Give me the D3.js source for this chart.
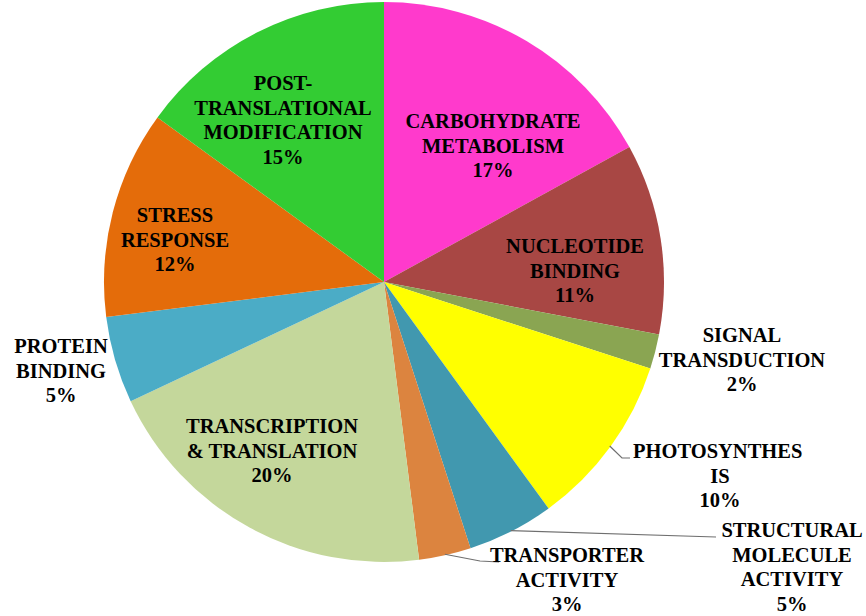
<!DOCTYPE html>
<html>
<head>
<meta charset="utf-8">
<script src="https://cdn.jsdelivr.net/npm/d3@7"></script>
<style>
  body { margin: 0; background: #fff; }
</style>
</head>
<body>
<script>
// SVG Size
var width = 866,
    height = 616;

// Chart data (clockwise from 12 o'clock)
var categories = ["CARBOHYDRATE METABOLISM", "NUCLEOTIDE BINDING", "SIGNAL TRANSDUCTION",
                  "PHOTOSYNTHESIS", "STRUCTURAL MOLECULE ACTIVITY", "TRANSPORTER ACTIVITY",
                  "TRANSCRIPTION & TRANSLATION", "PROTEIN BINDING", "STRESS RESPONSE",
                  "POST-TRANSLATIONAL MODIFICATION"];
var percents = [17, 11, 2, 10, 5, 3, 20, 5, 12, 15];
// label text as it is broken in the picture
var labelLines = [
  ["CARBOHYDRATE", "METABOLISM"],
  ["NUCLEOTIDE", "BINDING"],
  ["SIGNAL", "TRANSDUCTION"],
  ["PHOTOSYNTHES", "IS"],
  ["STRUCTURAL", "MOLECULE", "ACTIVITY"],
  ["TRANSPORTER", "ACTIVITY"],
  ["TRANSCRIPTION", "& TRANSLATION"],
  ["PROTEIN", "BINDING"],
  ["STRESS", "RESPONSE"],
  ["POST-", "TRANSLATIONAL", "MODIFICATION"]
];
var colors = ["#FF3ACC", "#A84744", "#8AA552", "#FFFF00", "#4198AF",
              "#DC843F", "#C4D79B", "#4BACC6", "#E46C0A", "#33CC33"];

// Layout of the labels: x center, first baseline, leader end (if any)
var labelLayout = [
  {x: 493, y: 128},
  {x: 575, y: 253},
  {x: 742, y: 342},
  {x: 720, y: 458, anchor: "start", tx: 633, leader: [[622, 458], [630, 458]]},
  {x: 792, y: 537, leader: [[716, 537]]},
  {x: 567, y: 562, leader: [[480, 561], [499, 562]]},
  {x: 272, y: 433},
  {x: 61, y: 353},
  {x: 175, y: 222},
  {x: 283, y: 90}
];
var lineHeight = 24.5;

var cx = 384, cy = 282, radius = 280;

var svg = d3.select("body").append("svg")
  .attr("width", width)
  .attr("height", height);

var g = svg.append("g")
  .attr("transform", "translate(" + cx + "," + cy + ")");

var data = categories.map(function(c, i) {
  return {name: c, value: percents[i], lines: labelLines[i], color: colors[i], layout: labelLayout[i]};
});

var pie = d3.pie()
  .sort(null)
  .value(function(d) { return d.value; });

var arc = d3.arc()
  .innerRadius(0)
  .outerRadius(radius);

var edgeArc = d3.arc()
  .innerRadius(radius - 1)
  .outerRadius(radius - 1);

var arcs = pie(data);

// Slices
g.selectAll("path.slice")
  .data(arcs)
  .enter()
  .append("path")
    .attr("class", "slice")
    .attr("d", arc)
    .attr("fill", function(d) { return d.data.color; });

// Leader lines from the slice edge to the outside labels
svg.selectAll("polyline.leader")
  .data(arcs.filter(function(d) { return d.data.layout.leader; }))
  .enter()
  .append("polyline")
    .attr("class", "leader")
    .attr("fill", "none")
    .attr("stroke", "#6f6f6f")
    .attr("stroke-width", 1.2)
    .attr("points", function(d) {
      var c = edgeArc.centroid(d);
      var pts = [[cx + c[0], cy + c[1]]].concat(d.data.layout.leader);
      return pts.map(function(p) { return p.join(","); }).join(" ");
    });

// Labels
var labels = svg.selectAll("text.label")
  .data(arcs)
  .enter()
  .append("text")
    .attr("class", "label")
    .attr("font-family", "'Liberation Serif', Tinos, 'Times New Roman', Times, 'DejaVu Serif', serif")
    .attr("font-weight", "bold")
    .attr("font-size", "20.5px")
    .attr("fill", "#000")
    .attr("text-anchor", "middle");

labels.each(function(d) {
  var t = d3.select(this);
  var lay = d.data.layout;
  var lines = d.data.lines.concat([d.data.value + "%"]);
  lines.forEach(function(line, i) {
    t.append("tspan")
      .attr("x", (i === 0 && lay.tx) ? lay.tx : lay.x)
      .attr("y", lay.y + i * lineHeight)
      .attr("text-anchor", (i === 0 && lay.anchor) ? lay.anchor : "middle")
      .text(line);
  });
});
</script>
</body>
</html>
